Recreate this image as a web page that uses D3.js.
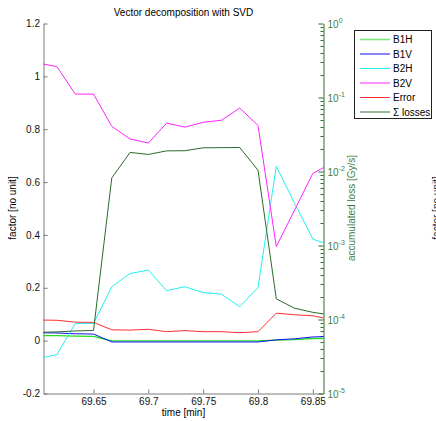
<!DOCTYPE html>
<html><head><meta charset="utf-8">
<script src="https://cdn.jsdelivr.net/npm/d3@7"></script>
<style>
html,body{margin:0;padding:0;background:#fff;}
svg{display:block;font-family:"Liberation Sans",Arial,Helvetica,sans-serif;}
</style></head>
<body>
<script>
// ---- data ----
const times = d3.range(17).map(k => 69.6 + k/60);
const B1H = [0.019,0.019,0.017,0.016,-0.001,-0.001,-0.001,-0.001,-0.001,-0.001,-0.001,-0.001,-0.001,0.002,0.004,0.008,0.009];
const B1V = [0.030,0.029,0.026,0.025,-0.005,-0.005,-0.005,-0.005,-0.005,-0.005,-0.005,-0.005,-0.005,0.003,0.007,0.014,0.016];
const B2H = [-0.067,-0.053,0.065,0.065,0.204,0.254,0.267,0.189,0.204,0.182,0.176,0.128,0.201,0.660,0.520,0.384,0.360];
const B2V = [1.050,1.037,0.933,0.933,0.811,0.763,0.748,0.823,0.808,0.826,0.834,0.880,0.814,0.356,0.494,0.633,0.670];
const ERR = [0.078,0.077,0.070,0.069,0.041,0.040,0.043,0.034,0.038,0.034,0.034,0.030,0.034,0.104,0.098,0.094,0.080];
const LOSS = [6.7e-5,6.8e-5,7.0e-5,7.1e-5,8.2e-3,0.0181,0.0170,0.0190,0.0191,0.0209,0.0210,0.0211,0.0104,1.9e-4,1.42e-4,1.25e-4,1.15e-4];
const xTicks = [69.65,69.7,69.75,69.8,69.85];
const xTickLabels = ["69.65","69.7","69.75","69.8","69.85"];
const yTicks = [-0.2,0,0.2,0.4,0.6,0.8,1,1.2];
const yTickLabels = ["-0.2","0","0.2","0.4","0.6","0.8","1","1.2"];
const logExps = [0,-1,-2,-3,-4,-5];
const seriesNames = ["B1H","B1V","B2H","B2V","Error","\u03A3 losses"];
const seriesColors = ["#22dd22","#1010ee","#22f0f0","#ff22ff","#ff3030","#2a6a2a"];

const W = 436, H = 421;
const L = 43.5, R = 323.5, T = 23.5, B = 393.5;
const svg = d3.select("body").append("svg").attr("width",W).attr("height",H);

const x = d3.scaleLinear().domain([69.6044,69.8597]).range([L,R]);
const y = d3.scaleLinear().domain([-0.2,1.2]).range([B,T]);
const yR = d3.scaleLog().domain([1e-5,1]).range([B,T]);

svg.append("defs").append("clipPath").attr("id","clip")
  .append("rect").attr("x",L).attr("y",T).attr("width",R-L).attr("height",B-T);

const axisGray = "#7a7a7a";
const green = "#2e6a2e";
const labelGreen = "#3f7f3f";

// title
svg.append("text").attr("x",(L+R)/2).attr("y",16).attr("text-anchor","middle")
  .attr("font-size",10).text("Vector decomposition with SVD");

// left axis
const gL = svg.append("g").attr("transform",`translate(${L},0)`)
  .call(d3.axisLeft(y).tickValues(yTicks).tickFormat((d,i)=>yTickLabels[i]).tickSizeInner(-4).tickSizeOuter(0).tickPadding(3.5));
gL.select(".domain").attr("stroke",axisGray);
gL.selectAll(".tick line").attr("stroke",axisGray);
gL.selectAll(".tick text").attr("font-size",10).attr("fill","#111").attr("font-family","Liberation Sans, Arial, sans-serif");

// bottom axis
const gB = svg.append("g").attr("transform",`translate(0,${B})`)
  .call(d3.axisBottom(x).tickValues(xTicks).tickFormat((d,i)=>xTickLabels[i]).tickSizeInner(-4).tickSizeOuter(0).tickPadding(4));
gB.select(".domain").attr("stroke",axisGray);
gB.selectAll(".tick line").attr("stroke",axisGray);
gB.selectAll(".tick text").attr("font-size",10).attr("fill","#111").attr("font-family","Liberation Sans, Arial, sans-serif");

// right log axis
const minorVals = [];
for (let e=-5; e<0; e++) for (let m=2; m<=9; m++) minorVals.push(m*Math.pow(10,e));
const gR = svg.append("g").attr("transform",`translate(${R},0)`);
gR.call(d3.axisRight(yR).tickValues(logExps.map(e=>Math.pow(10,e))).tickFormat("").tickSizeInner(-5).tickSizeOuter(0));
gR.select(".domain").attr("stroke",green);
gR.selectAll(".tick line").attr("stroke",green);
gR.selectAll(".minor").data(minorVals).enter().append("line").attr("class","minor")
  .attr("x1",0).attr("x2",-3).attr("y1",d=>Math.round(yR(d))+0.5).attr("y2",d=>Math.round(yR(d))+0.5)
  .attr("stroke",green);
const rl = gR.selectAll(".rlab").data(logExps).enter().append("text").attr("class","rlab")
  .attr("x",4).attr("y",d=>yR(Math.pow(10,d))+4).attr("font-size",10).attr("fill",labelGreen);
rl.append("tspan").text("10");
rl.append("tspan").attr("dy",-5).attr("font-size",7).text(d=>d===0?"0":"-"+(-d));

// axis labels
svg.append("text").attr("transform",`translate(15.5,208) rotate(-90)`).attr("text-anchor","middle")
  .attr("font-size",10).text("factor [no unit]");
svg.append("text").attr("transform",`translate(355,208) rotate(-90)`).attr("text-anchor","middle")
  .attr("font-size",10).attr("fill",labelGreen).text("accumulated loss [Gy/s]");
svg.append("text").attr("transform",`translate(440,208) rotate(-90)`).attr("text-anchor","middle")
  .attr("font-size",10).attr("fill","#222").text("factor [no unit]");
svg.append("text").attr("x",(L+R)/2).attr("y",416).attr("text-anchor","middle")
  .attr("font-size",10).text("time [min]");

// lines
const plot = svg.append("g").attr("clip-path","url(#clip)");
const lineL = d3.line().x((d,i)=>x(times[i])).y(d=>y(d));
const lineR = d3.line().x((d,i)=>x(times[i])).y(d=>yR(d));
const leftSeries = [B1H,B1V,B2H,B2V,ERR];
leftSeries.forEach((s,i)=>{
  plot.append("path").datum(s).attr("d",lineL).attr("fill","none")
    .attr("stroke",seriesColors[i]).attr("stroke-width",i===0?1.4:1);
});
plot.append("path").datum(LOSS).attr("d",lineR).attr("fill","none")
  .attr("stroke",seriesColors[5]).attr("stroke-width",1);

// legend
const lg = svg.append("g");
lg.append("rect").attr("x",354.5).attr("y",30.5).attr("width",77).attr("height",88)
  .attr("fill","#fff").attr("stroke","#222");
seriesNames.forEach((n,i)=>{
  const yy = 39.5 + i*14.5;
  lg.append("line").attr("x1",360).attr("x2",390).attr("y1",yy).attr("y2",yy)
    .attr("stroke",seriesColors[i]).attr("stroke-width",(i===0||i===5)?1.6:1)
    .attr("stroke-opacity",(i===0||i===5)?0.6:1);
  lg.append("text").attr("x",393).attr("y",yy+3.5).attr("font-size",10).text(n);
});
</script>
</body></html>
